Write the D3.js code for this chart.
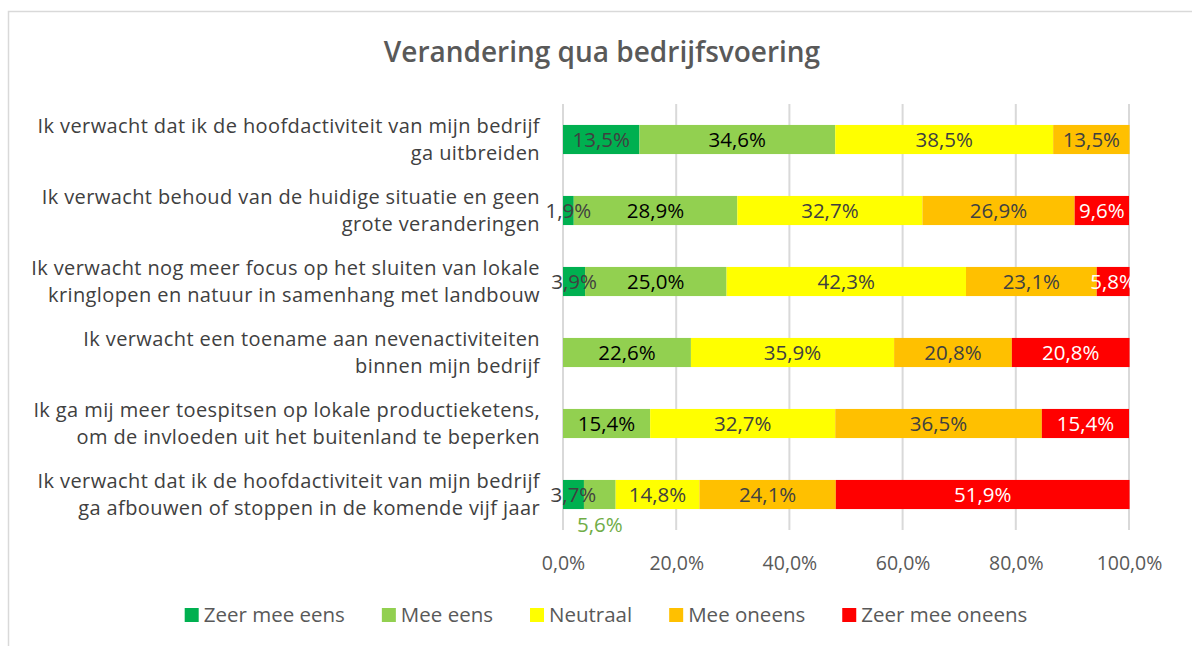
<!DOCTYPE html>
<html>
<head>
<meta charset="utf-8">
<script src="https://cdn.jsdelivr.net/npm/d3@7"></script>
<style>
  body { margin: 0; background: #fff; }
  text { font-family: "Open Sans", "Noto Sans", sans-serif; }
</style>
</head>
<body>
<div id="canvas"></div>
<script>
/* DATA */
const categories = [
  ["Ik verwacht dat ik de hoofdactiviteit van mijn bedrijf", "ga uitbreiden"],
  ["Ik verwacht behoud van de huidige situatie en geen", "grote veranderingen"],
  ["Ik verwacht nog meer focus op het sluiten van lokale", "kringlopen en natuur in samenhang met landbouw"],
  ["Ik verwacht een toename aan nevenactiviteiten", "binnen mijn bedrijf"],
  ["Ik ga mij meer toespitsen op lokale productieketens,", "om de invloeden uit het buitenland te beperken"],
  ["Ik verwacht dat ik de hoofdactiviteit van mijn bedrijf", "ga afbouwen of stoppen in de komende vijf jaar"]
];
const series = ["Zeer mee eens", "Mee eens", "Neutraal", "Mee oneens", "Zeer mee oneens"];
const zeerMeeEens   = [13.5, 1.9, 3.9, 0, 0, 3.7];
const meeEens       = [34.6, 28.9, 25.0, 22.6, 15.4, 5.6];
const neutraal      = [38.5, 32.7, 42.3, 35.9, 32.7, 14.8];
const meeOneens     = [13.5, 26.9, 23.1, 20.8, 36.5, 24.1];
const zeerMeeOneens = [0, 9.6, 5.8, 20.8, 15.4, 51.9];
const xTicks = [0, 20, 40, 60, 80, 100];

const colors = ["#00b050", "#92d050", "#ffff00", "#ffc000", "#ff0000"];
const labelColors = ["#404040", "#000000", "#404040", "#404040", "#ffffff"];

const width = 1192, height = 646;
const svg = d3.select('#canvas')
  .append('svg')
    .attr('width', width)
    .attr('height', height);

// chart frame
svg.append('rect')
  .attr('x', 8.5).attr('y', 11.5)
  .attr('width', 1200).attr('height', 700)
  .attr('fill', '#fff')
  .attr('stroke', '#d9d9d9')
  .attr('stroke-width', 1.5);

svg.append('text')
  .attr('x', 602).attr('y', 52)
  .attr('dy', '.35em')
  .attr('text-anchor', 'middle')
  .attr('font-size', 28)
  .attr('font-weight', 600)
  .attr('fill', '#595959')
  .text('Verandering qua bedrijfsvoering');

const x = d3.scaleLinear().domain([0, 100]).range([563, 1129]);
const y = d3.scaleBand().domain(d3.range(categories.length)).range([104, 530]).paddingInner(0.59).paddingOuter(0.295);

// gridlines
svg.append('g')
  .selectAll('line')
  .data(xTicks)
  .join('line')
  .attr('x1', d => x(d)).attr('x2', d => x(d))
  .attr('y1', 104).attr('y2', 530)
  .attr('stroke', '#d9d9d9')
  .attr('stroke-width', 2);

// x axis labels
const xAxis = d3.axisBottom(x)
  .tickValues(xTicks)
  .tickSize(0)
  .tickPadding(0)
  .tickFormat(d => d.toFixed(1).replace('.', ',') + '%');
svg.append('g')
  .attr('transform', 'translate(0,556)')
  .call(xAxis)
  .call(g => g.select('.domain').remove())
  .call(g => g.selectAll('text')
    .attr('font-size', 19.5)
    .attr('fill', '#595959')
    .attr('font-family', '"Open Sans", sans-serif'));

// stacked data
const rows = categories.map((c, i) => ({
  i,
  vals: [zeerMeeEens[i], meeEens[i], neutraal[i], meeOneens[i], zeerMeeOneens[i]]
}));
const stack = d3.stack().keys(d3.range(5)).value((d, k) => d.vals[k]);
const stacked = stack(rows);

const layers = svg.append('g')
  .selectAll('g')
  .data(stacked)
  .join('g')
  .attr('fill', (d, k) => colors[k]);

layers.selectAll('rect')
  .data(d => d.filter(s => s[1] - s[0] > 0))
  .join('rect')
  .attr('x', d => x(d[0]))
  .attr('width', d => x(d[1]) - x(d[0]))
  .attr('y', d => y(d.data.i))
  .attr('height', y.bandwidth());

// data labels
const labels = svg.append('g');
stacked.forEach((layer, k) => {
  layer.forEach(s => {
    const v = s[1] - s[0];
    if (v <= 0) return;
    const below = (k === 1 && s.data.i === 5);
    labels.append('text')
      .attr('x', x((s[0] + s[1]) / 2))
      .attr('y', below ? y(s.data.i) + y.bandwidth() + 16 : y(s.data.i) + y.bandwidth() / 2)
      .attr('dy', '.35em')
      .attr('text-anchor', 'middle')
      .attr('font-size', 20.5)
      .attr('fill', below ? '#70ad47' : labelColors[k])
      .text(v.toFixed(1).replace('.', ',') + '%');
  });
});

// category labels
const catG = svg.append('g')
  .selectAll('text')
  .data(categories)
  .join('text')
  .attr('text-anchor', 'end')
  .attr('font-size', 20)
  .attr('letter-spacing', 0.4)
  .attr('fill', '#404040')
  .attr('transform', (d, i) => `translate(540,${y(i) + y.bandwidth() / 2})`);
catG.selectAll('tspan')
  .data(d => d)
  .join('tspan')
  .attr('x', 0)
  .attr('y', (d, j) => j === 0 ? -13.8 : 13.8)
  .attr('dy', '.35em')
  .text(d => d);

// legend
const legend = svg.append('g').attr('transform', 'translate(0,615)');
const items = legend.selectAll('g')
  .data(series)
  .join('g');
items.append('rect')
  .attr('width', 14).attr('height', 14)
  .attr('y', -7)
  .attr('fill', (d, k) => colors[k]);
items.append('text')
  .attr('x', 19)
  .attr('dy', '.35em')
  .attr('font-size', 20.5)
  .attr('fill', '#595959')
  .text(d => d);
let widths = [];
items.each(function() { widths.push(this.getBBox().width); });
const gap = 37;
const total = d3.sum(widths) + gap * (widths.length - 1);
let cx = 606 - total / 2;
items.attr('transform', (d, k) => {
  const t = `translate(${cx},0)`;
  cx += widths[k] + gap;
  return t;
});
</script>
</body>
</html>
